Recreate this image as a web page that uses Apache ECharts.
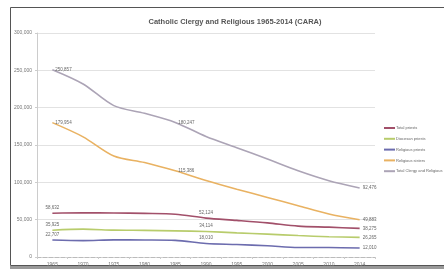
<!DOCTYPE html>
<html>
<head>
<meta charset="utf-8">
<script src="https://cdn.jsdelivr.net/npm/echarts@6/dist/echarts.min.js"></script>
<style>
  html, body { margin: 0; padding: 0; background: #fff; }
  #main { width: 444px; height: 271px; }
</style>
</head>
<body>
<div id="main"></div>
<script>
// data
var years = ['1965', '1970', '1975', '1980', '1985', '1990', '1995', '2000', '2005', '2010', '2014'];
var totalPriests = [58632, 59192, 58909, 58398, 57317, 52124, 49054, 45699, 41399, 39993, 38275];
var diocesanPriests = [35925, 37272, 36005, 35627, 35052, 34114, 32349, 30607, 28702, 27182, 26265];
var religiousPriests = [22707, 21920, 22904, 22771, 22265, 18010, 16705, 15092, 12697, 12811, 12010];
var religiousSisters = [179954, 160931, 135225, 126517, 115386, 102504, 90809, 79814, 68634, 57544, 49883];
var totalClergyReligious = [250857, 231746, 202759, 192459, 180247, 161371, 146398, 131175, 115484, 102227, 92476];
var yTicks = [0, 50000, 100000, 150000, 200000, 250000, 300000];

var myChart = echarts.init(document.getElementById('main'));

var fontFam = '"Liberation Sans", Arial, sans-serif';

// which points get a data label, and where
function withLabels(values, idxs, pos) {
  return values.map(function (v, i) {
    var k = idxs.indexOf(i);
    if (k >= 0) {
      return { value: v, label: { show: true, position: pos[k] } };
    }
    return v;
  });
}

function fmt(n) {
  return String(n).replace(/\B(?=(\d{3})+(?!\d))/g, ',');
}

function mkSeries(name, values, color, idxs, pos) {
  return {
    name: name,
    type: 'line',
    smooth: 0.3,
    symbol: 'circle',
    symbolSize: 0,
    showSymbol: true,
    lineStyle: { color: color, width: 1.6 },
    itemStyle: { color: color },
    label: {
      show: false,
      fontSize: 4.5,
      fontFamily: fontFam,
      color: '#666',
      distance: 3,
      formatter: function (p) { return fmt(p.value); }
    },
    data: withLabels(values, idxs, pos)
  };
}

var option = {
  animation: false,
  backgroundColor: '#fff',
  title: {
    text: 'Catholic Clergy and Religious 1965-2014 (CARA)',
    left: 230,
    top: 13,
    textAlign: 'center',
    textStyle: { fontSize: 7.5, fontWeight: 'bold', color: '#555', fontFamily: fontFam }
  },
  legend: {
    orient: 'vertical',
    left: 379,
    top: 121,
    itemWidth: 11,
    itemHeight: 2,
    itemGap: 6.8,
    icon: 'rect',
    textStyle: { fontSize: 4, color: '#666', fontFamily: fontFam, padding: [0, 0, 0, -4] },
    data: ['Total priests', 'Diocesan priests', 'Religious priests', 'Religious sisters', 'Total Clergy and Religious']
  },
  grid: { left: 37, right: 69, top: 33, bottom: 14 },
  xAxis: {
    type: 'category',
    boundaryGap: true,
    data: years,
    axisLine: { lineStyle: { color: '#bbb', type: 'dashed', width: 1 } },
    axisTick: { show: true, lineStyle: { color: '#ccc' }, length: 2 },
    axisLabel: { fontSize: 5, color: '#777', fontFamily: fontFam, margin: 5 }
  },
  yAxis: {
    type: 'value',
    min: yTicks[0],
    max: yTicks[yTicks.length - 1],
    interval: 50000,
    axisLine: { show: true, lineStyle: { color: '#ccc' } },
    axisTick: { show: true, length: 2, lineStyle: { color: '#ccc' } },
    splitLine: { lineStyle: { color: '#e2e2e2', width: 1 } },
    axisLabel: { fontSize: 5, color: '#777', fontFamily: fontFam, margin: 5, formatter: function (v) { return fmt(v); } }
  },
  graphic: [
    { type: 'rect', shape: { x: 10.5, y: 7.5, width: 440, height: 258 }, style: { fill: 'none', stroke: '#555', lineWidth: 1 }, silent: true },
    { type: 'rect', shape: { x: 10, y: 266, width: 440, height: 3 }, style: { fill: '#999' }, silent: true }
  ],
  series: [
    mkSeries('Total priests', totalPriests, '#a2506a', [0, 5, 10], ['top', 'top', 'right']),
    mkSeries('Diocesan priests', diocesanPriests, '#b8cc6c', [0, 5, 10], ['top', 'top', 'right']),
    mkSeries('Religious priests', religiousPriests, '#6c6cae', [0, 5, 10], ['top', 'top', 'right']),
    mkSeries('Religious sisters', religiousSisters, '#e9b262', [0, 4, 10], ['right', 'right', 'right']),
    mkSeries('Total Clergy and Religious', totalClergyReligious, '#aca4b6', [0, 4, 10], ['right', 'right', 'right'])
  ]
};

option && myChart.setOption(option);
</script>
</body>
</html>
